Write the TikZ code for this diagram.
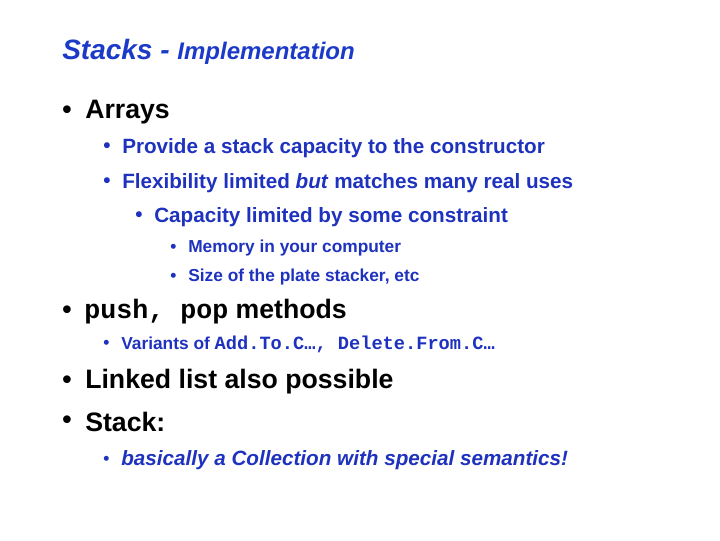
\documentclass[tikz,border=0pt]{standalone}
\usepackage{fontspec}
\setmainfont{Liberation Sans}
\setmonofont{Liberation Mono}
\definecolor{titleblue}{RGB}{28,58,200}
\definecolor{itemblue}{RGB}{30,50,190}
\tikzset{
  txt/.style={anchor=west, inner sep=0pt, font=\bfseries},
  lvlone/.style={txt, font=\fontsize{20}{24}\selectfont\bfseries, text=black},
  lvltwo/.style={txt, font=\fontsize{15.5}{18}\selectfont\bfseries, text=itemblue},
  lvlfour/.style={txt, font=\fontsize{13}{16}\selectfont\bfseries, text=itemblue},
}
\begin{document}
\begin{tikzpicture}[x=0.75pt, y=-0.75pt]
  \useasboundingbox (0,0) rectangle (720,540);

  \node[txt, text=titleblue, font=\fontsize{21}{25}\selectfont\bfseries\itshape]
    (title) at (62,52) {Stacks - \fontsize{18}{22}\selectfont Implementation};

  % top level items
  \foreach \y/\name/\label in {112/arrays/Arrays, 382/linked/Linked list also possible, 422/stack/Stack:}{
    \node[lvlone] (b-\name) at (62,\y) {•};
    \node[lvlone] (\name) at (85,\y) {\label};
  }
  \node[lvlone] (b-push) at (62,312) {•};
  \node[lvlone] (push) at (84,312) {\ttfamily push, pop\rmfamily\ methods};

  % second level
  \foreach \x/\y/\name/\label in {
    103/148/provide/{Provide a stack capacity to the constructor},
    103/183/flex/{Flexibility limited \textit{but} matches many real uses},
    135/217/capacity/{Capacity limited by some constraint}}{
    \node[lvltwo] (b-\name) at (\x,\y) {•};
    \node[lvltwo] (\name) at (\x+19,\y) {\label};
  }

  % small items
  \foreach \x/\y/\name/\label in {
    170/248/memory/{Memory in your computer},
    170/277/plate/{Size of the plate stacker, etc},
    103/344/variants/{Variants of {\ttfamily\fontsize{14}{16}\selectfont Add.To.C…, Delete.From.C…}},
    103/460/basic/{\fontsize{15.5}{18}\selectfont\itshape basically a Collection with special semantics!}}{
    \node[lvlfour] (b-\name) at (\x,\y) {•};
    \node[lvlfour] (\name) at (\x+18,\y) {\label};
  }
\end{tikzpicture}
\end{document}
